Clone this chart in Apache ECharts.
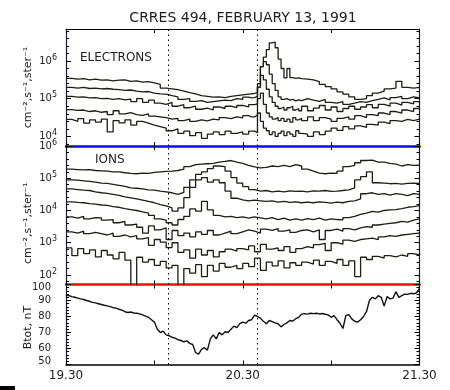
<!DOCTYPE html>
<html><head><meta charset="utf-8">
<script src="https://cdn.jsdelivr.net/npm/echarts@6/dist/echarts.min.js"></script>
<style>html,body{margin:0;padding:0;background:#fff}#c{width:450px;height:390px}</style>
</head><body><div id="c"></div>
<script>
// ---- text ----
const titleText = 'CRRES 494, FEBRUARY 13, 1991';
const fluxUnit = 'cm\u207B\u00B2,s\u207B\u00B9,ster\u207B\u00B9';
const btotName = 'Btot, nT';
const electronLabel = 'ELECTRONS';
const ionLabel = 'IONS';
// x axis: minutes after 19:30 UT
const xTickValues = [0, 60, 120];
const xTickLabels = ['19.30', '20.30', '21.30'];
const markerMinutes = [34.8, 65];
// sample times (minutes after 19:30)
const tElec = [0,2,4,6,8,10,12,14,16,18,20,22,24,26,28,30,32,34,36,38,40,42,44,46,48,50,52,54,56,58,60,62,63,64,65,66,67,68,69,70,71,72,73,74,75,76,77,78,79,80,82,84,86,88,90,92,94,96,98,100,102,104,106,108,110,112,114,116,118,120];
const tIon = [0,2,4,6,8,10,12,14,16,18,20,22,24,26,28,30,32,34,36,38,40,42,44,46,48,50,52,54,56,58,60,62,64,66,68,70,72,74,76,78,80,82,84,86,88,90,92,94,96,98,100,102,104,106,108,110,112,114,116,118,120];
const tMag = [0,1,2,3,4,5,6,7,8,9,10,11,12,13,14,15,16,17,18,19,20,21,22,23,24,25,26,27,28,29,30,31,32,33,34,35,36,37,38,39,40,41,42,43,44,45,46,47,48,49,50,51,52,53,54,55,56,57,58,59,60,61,62,63,64,65,66,67,68,69,70,71,72,73,74,75,76,77,78,79,80,81,82,83,84,85,86,87,88,89,90,91,92,93,94,95,96,97,98,99,100,101,102,103,104,105,106,107,108,109,110,111,112,113,114,115,116,117,118,119,120];

// ---- electron flux, log10(cm^-2 s^-1 ster^-1), at tElec ----
const elec1 = [5.54,5.52,5.53,5.50,5.52,5.49,5.50,5.47,5.49,5.50, 5.46,5.47,5.44,5.45,5.42,5.38,5.28,5.26,5.24,5.20, 5.16,5.13,5.08,5.06,5.04,5.05,5.03,5.06,5.08,5.10, 5.12,5.13, 5.14,5.16,5.30,5.85,6.10,6.30,6.48,6.50,6.35,6.05,5.80,5.55,5.80,5.56,5.54,5.55,5.53,5.52, 5.50,5.45,5.38,5.32,5.26,5.18,5.12,5.05,4.98,5.00, 5.08,5.15,5.20,5.26,5.28,5.46,5.30,5.28,5.30,5.31];
const elec2 = [5.30,5.28,5.30,5.27,5.28,5.26,5.27,5.25,5.24,5.22, 5.23,5.20,5.18,5.19,5.15,5.13,5.12,5.08,5.05,4.98, 5.00,4.93,4.95,4.90,4.92,4.94,4.96,4.95,5.00,4.98, 5.04,5.02, 5.03,5.06,5.40,5.85,5.98,5.90,5.65,5.40,5.22,5.05,4.98,5.00,4.96,4.98,4.94,4.97,4.95,5.00, 4.96,4.93,4.98,4.90,4.88,4.92,4.85,4.88,4.92,4.90, 4.95,4.98,5.02,4.97,5.03,5.06,5.00,5.05,5.02,5.04];
const elec3 = [5.06,5.04,5.05,5.02,5.03,5.00,5.01,4.98,5.00,4.97, 4.99,4.92,5.00,4.90,4.96,4.88,4.85,4.90,4.80,4.84, 4.76,4.80,4.72,4.75,4.70,4.78,4.74,4.80,4.76,4.82, 4.78,4.84, 4.84,4.86,5.30,5.62,5.50,5.25,5.05,4.90,4.80,4.74,4.78,4.70,4.76,4.80,4.70,4.74,4.68,4.80, 4.68,4.75,4.82,4.70,4.78,4.66,4.74,4.80,4.72,4.78, 4.84,4.76,4.85,4.80,4.88,4.83,4.90,4.86,4.92,4.88];
const elec4 = [4.71,4.69,4.70,4.66,4.68,4.64,4.66,4.58,4.68,4.60, 4.63,4.58,4.56,4.60,4.54,4.52,4.50,4.46,4.48,4.42, 4.46,4.40,4.44,4.41,4.46,4.44,4.50,4.47,4.52,4.49, 4.55,4.52, 4.52,4.56,5.00,5.15,4.85,4.62,4.52,4.46,4.50,4.42,4.48,4.40,4.46,4.38,4.50,4.44,4.48,4.42, 4.52,4.42,4.50,4.46,4.40,4.48,4.52,4.46,4.55,4.50, 4.58,4.55,4.62,4.58,4.66,4.62,4.70,4.66,4.74,4.76];
const elec5 = [4.45,4.40,4.47,4.35,4.44,4.38,4.46,4.12,4.42,4.36, 4.44,4.30,4.40,4.35,4.30,4.26,4.22,4.15,4.20,4.08, 4.14,4.02,4.10,3.95,4.06,4.12,4.05,4.14,4.08,4.12, 4.06,4.14, 4.14,4.10,4.62,4.40,4.22,4.15,4.05,4.12,4.00,4.08,4.14,4.02,4.12,4.06,4.00,4.15,4.08,4.06, 4.00,4.12,4.05,4.14,4.22,4.16,4.26,4.20,4.28,4.24, 4.32,4.30,4.38,4.34,4.42,4.40,4.45,4.42,4.46,4.44];

// ---- ion flux, log10(cm^-2 s^-1 ster^-1), at tIon ----
const ion1 = [5.28,5.27,5.26,5.27,5.24,5.23,5.22,5.20,5.20,5.17, 5.15,5.14,5.16,5.15,5.18,5.20,5.21,5.22,5.24,5.28, 5.36,5.42,5.44,5.45,5.46,5.50,5.52,5.55,5.50,5.46, 5.40,5.35,5.32,5.34,5.38,5.36,5.40,5.36,5.42,5.38, 5.28,5.22,5.16,5.14,5.16,5.15,5.22,5.36,5.40,5.48, 5.55,5.56,5.50,5.50,5.46,5.44,5.38,5.42,5.40,5.41, 5.40];
const ion2 = [4.95,4.94,4.92,4.90,4.88,4.85,4.84,4.81,4.78,4.75, 4.70,4.69,4.67,4.64,4.63,4.60,4.58,4.55,4.50,4.56, 4.72,4.95,5.12,5.20,5.30,5.38,5.36,5.22,5.02,4.85, 4.74,4.65,4.60,4.62,4.58,4.60,4.58,4.61,4.59,4.60, 4.58,4.61,4.60,4.62,4.59,4.60,4.62,4.64,4.70,4.95, 5.05,5.20,4.86,4.85,4.83,4.84,4.82,4.84,4.85,4.84, 4.86];
const ion3 = [4.67,4.65,4.63,4.62,4.58,4.55,4.53,4.50,4.47,4.42, 4.39,4.36,4.32,4.28,4.24,4.18,4.14,4.08,3.98,4.08, 4.40,4.72,4.95,5.02,4.88,4.95,4.86,4.60,4.38,4.33, 4.30,4.32,4.30,4.28,4.30,4.26,4.28,4.25,4.27,4.24, 4.26,4.24,4.27,4.25,4.23,4.26,4.24,4.28,4.30,4.36, 4.52,4.55,4.50,4.52,4.48,4.52,4.50,4.46,4.52,4.50, 4.53];
const ion4 = [4.27,4.25,4.24,4.21,4.20,4.17,4.16,4.12,4.10,4.06, 4.03,4.00,3.96,3.92,3.85,3.74,3.70,3.62,3.55,3.72, 3.82,4.05,3.98,4.28,4.02,3.85,3.80,3.82,3.78,3.80, 3.76,3.80,3.77,3.74,3.78,3.72,3.76,3.70,3.74,3.70, 3.75,3.72,3.76,3.70,3.74,3.72,3.71,3.78,3.82,3.88, 3.92,3.97,3.95,4.00,4.02,4.03,4.06,4.10,4.12,4.15, 4.17];
const ion5 = [3.80,3.76,3.82,3.74,3.78,3.77,3.70,3.72,3.62,3.66, 3.55,3.58,3.48,3.30,3.52,3.40,3.46,3.10,3.38,3.22, 3.30,3.18,3.34,3.26,3.38,3.24,3.30,3.36,3.28,3.34, 3.40,3.36,3.30,3.42,3.38,3.44,3.36,3.40,3.32,3.38, 3.40,3.34,3.40,3.10,3.38,3.42,3.36,3.44,3.40,3.46, 3.50,3.48,3.55,3.58,3.60,3.62,3.66,3.64,3.70,3.74, 3.77];
const ion6 = [3.34,3.30,3.36,3.28,3.32,3.28,3.24,3.30,3.20,3.24, 3.18,3.22,3.12,3.16,2.92,3.10,3.02,2.85,3.00,2.70, 2.78,2.52,2.80,2.62,2.76,2.56,2.72,2.80,2.74,2.82, 2.78,2.90,2.72,2.95,2.80,2.84,2.76,2.88,2.70,2.82, 2.88,2.84,2.94,2.98,2.76,3.00,2.96,3.08,3.04,3.10, 3.12,3.14,3.10,3.18,3.22,3.20,3.24,3.26,3.28,3.30, 3.31];
const ion7 = [2.84,2.60,2.82,2.66,2.78,2.56,2.76,2.62,2.50,2.70, 2.46,1.50,2.55,2.40,2.48,2.30,2.42,2.22,2.30,1.50, 2.20,2.06,2.32,1.95,2.30,2.12,2.36,2.24,2.30,2.20, 2.36,2.26,2.52,2.14,2.40,2.28,2.44,2.22,2.38,2.30, 2.40,2.34,2.46,2.30,2.42,2.36,2.48,2.30,2.44,1.95, 2.55,2.48,2.58,2.52,2.60,2.56,2.62,2.58,2.66,2.62, 2.68];

// ---- total magnetic field, nT, at tMag ----
const btot = [93.4,93.0,92.4,92.0,91.5,91.0,90.6,90.0,89.5,88.8, 88.5,88.0,87.5,87.0,86.6,86.2,85.5,85.2,84.5,84.0, 83.0,82.5,82.8,82.2,82.0,81.6,81.0,80.2,79.5,78.0, 76.5,72.0,70.0,70.8,68.5,68.0,67.0,66.5,65.5,65.0, 64.2,64.8,63.2,62.5,57.5,56.5,59.5,60.5,59.0,66.0, 68.5,66.0,70.0,68.5,70.5,70.0,72.0,74.0,73.0,75.5, 76.5,75.8,77.5,78.0,80.8,80.0,79.0,77.0,75.5,77.5, 76.8,76.0,75.5,73.5,75.0,76.0,77.5,77.2,78.6,79.5, 81.5,81.8,81.5,82.0,81.8,82.0,81.6,81.9,81.4,81.0, 79.5,80.5,78.0,75.8,72.5,80.5,81.2,78.5,77.0,76.5, 78.0,80.0,83.0,90.0,92.0,91.0,93.0,92.0,86.5,92.5, 91.0,91.5,95.5,92.0,93.0,94.0,93.8,94.5,94.2,94.8, 97.5];

// ---- axis ranges ----
const elecRange = [3.746, 6.847];   // log10 flux
const ionRange = [1.705, 6];        // log10 flux
const btotRange = [50, 100];

const FONT = 'DejaVu Sans';
const INK = '#222';
const LINE = '#1e1e12';
const FRAME = '#1a1a40';

function pairs(ts, vs) { return vs.map((v, i) => [ts[i], v]); }
function powLabel(v) {
  const r = Math.round(v);
  return Math.abs(v - r) < 1e-6 ? '{b|10}{s|' + r + '}' : '';
}
const powRich = {
  b: { fontSize: 10, fontFamily: FONT, color: INK },
  s: { fontSize: 8, fontFamily: FONT, color: INK, padding: [0, 0, 7, 0] }
};

const L = 66, W = 353.5;
const grids = [
  { left: L, top: 29, width: W, height: 117 },
  { left: L, top: 146, width: W, height: 138.5 },
  { left: L, top: 284.5, width: W, height: 80 }
];

function xAx(g, pos, lineColor, lineWidth, showLine, showLabel) {
  return {
    type: 'value', gridIndex: g, position: pos, min: 0, max: 120, interval: 30,
    axisLine: { show: showLine, onZero: false, lineStyle: { color: lineColor, width: lineWidth } },
    axisTick: { show: true, inside: true, length: 4, lineStyle: { color: '#000' } },
    splitLine: { show: false },
    axisLabel: {
      show: showLabel, margin: 5, fontSize: 12, fontFamily: FONT, color: INK,
      formatter: v => { const k = xTickValues.indexOf(v); return k >= 0 ? xTickLabels[k] : ''; }
    }
  };
}
const xAxes = [
  xAx(0, 'bottom', '#0a0aff', 2.5, true, false),
  xAx(1, 'bottom', '#ff0a0a', 2.5, true, false),
  xAx(2, 'bottom', '#000', 1.5, true, true),
  xAx(0, 'top', '#000', 1.2, true, false),
  xAx(1, 'top', '#000', 1, false, false),
  xAx(2, 'top', '#000', 1, false, false)
];

function logY(g, range, pos, withLabel, namePad) {
  return {
    type: 'value', gridIndex: g, position: pos, min: range[0], max: range[1],
    minInterval: 1, maxInterval: 1,
    axisLine: { show: true, onZero: false, lineStyle: { color: FRAME, width: 1.2 } },
    axisTick: { show: true, inside: true, length: 5, lineStyle: { color: '#000' } },
    minorTick: { show: true, splitNumber: 5, length: 3, lineStyle: { color: '#000' } },
    splitLine: { show: false },
    axisLabel: { show: withLabel, margin: 9, formatter: powLabel, rich: powRich },
    name: withLabel ? fluxUnit : '', nameLocation: 'middle', nameGap: 32, nameMoveOverlap: false,
    nameTextStyle: { fontSize: 11, fontFamily: FONT, color: INK, padding: namePad || 0 }
  };
}
function btotY(pos, withLabel) {
  return {
    type: 'value', gridIndex: 2, position: pos, min: btotRange[0], max: btotRange[1], interval: 10,
    axisLine: { show: true, onZero: false, lineStyle: { color: FRAME, width: 1.2 } },
    axisTick: { show: true, inside: true, length: 5, lineStyle: { color: '#000' } },
    minorTick: { show: true, splitNumber: 5, length: 3, lineStyle: { color: '#000' } },
    splitLine: { show: false },
    axisLabel: {
      show: withLabel, margin: 15, fontSize: 10, fontFamily: FONT, color: INK,
      formatter: v => v === btotRange[1] ? '{t|' + v + '}' : (v === btotRange[0] ? '{u|' + v + '}' : '' + v),
      rich: {
        t: { fontSize: 10, fontFamily: FONT, color: INK, padding: [5, 0, 0, 0] },
        u: { fontSize: 10, fontFamily: FONT, color: INK, padding: [0, 0, 7, 0] }
      }
    },
    name: withLabel ? btotName : '', nameLocation: 'middle', nameGap: 32, nameMoveOverlap: false,
    nameTextStyle: { fontSize: 11, fontFamily: FONT, color: INK, padding: [0, 6, 0, 0] }
  };
}
const yAxes = [
  logY(0, elecRange, 'left', true),
  logY(1, ionRange, 'left', true, [0, 16, 0, 0]),
  btotY('left', true),
  logY(0, elecRange, 'right', false),
  logY(1, ionRange, 'right', false),
  btotY('right', false)
];

function markers() {
  return {
    silent: true, symbol: 'none', label: { show: false },
    lineStyle: { color: '#000', type: [1.5, 3.5], width: 1 },
    data: markerMinutes.map(m => ({ xAxis: m }))
  };
}
function stepSeries(name, ts, vals, g, withMarks) {
  const s = {
    name: name, type: 'line', step: 'end', xAxisIndex: g, yAxisIndex: g,
    data: pairs(ts, vals), showSymbol: false, silent: true,
    lineStyle: { color: LINE, width: 1.3 }
  };
  if (withMarks) s.markLine = markers();
  return s;
}
const series = [
  stepSeries('e1', tElec, elec1, 0, true), stepSeries('e2', tElec, elec2, 0), stepSeries('e3', tElec, elec3, 0),
  stepSeries('e4', tElec, elec4, 0), stepSeries('e5', tElec, elec5, 0),
  stepSeries('i1', tIon, ion1, 1, true), stepSeries('i2', tIon, ion2, 1), stepSeries('i3', tIon, ion3, 1),
  stepSeries('i4', tIon, ion4, 1), stepSeries('i5', tIon, ion5, 1), stepSeries('i6', tIon, ion6, 1), stepSeries('i7', tIon, ion7, 1),
  {
    name: 'btot', type: 'line', xAxisIndex: 2, yAxisIndex: 2, data: pairs(tMag, btot),
    showSymbol: false, silent: true, lineStyle: { color: '#111', width: 1.4 },
    markLine: markers()
  }
];

const chart = echarts.init(document.getElementById('c'), null, { renderer: 'canvas' });
chart.setOption({
  animation: false,
  backgroundColor: '#fff',
  textStyle: { fontFamily: FONT },
  grid: grids,
  xAxis: xAxes,
  yAxis: yAxes,
  series: series,
  graphic: [
    { type: 'text', x: 243, y: 18, style: { text: titleText, font: '14px "DejaVu Sans"', fill: INK, textAlign: 'center', textVerticalAlign: 'middle' } },
    { type: 'text', x: 80, y: 58, style: { text: electronLabel, font: '12px "DejaVu Sans"', fill: INK, textAlign: 'left', textVerticalAlign: 'middle' } },
    { type: 'text', x: 95, y: 160, style: { text: ionLabel, font: '12px "DejaVu Sans"', fill: INK, textAlign: 'left', textVerticalAlign: 'middle' } },
    { type: 'rect', shape: { x: 0, y: 386, width: 15, height: 4 }, style: { fill: '#000' } }
  ]
});
</script>
</body></html>
